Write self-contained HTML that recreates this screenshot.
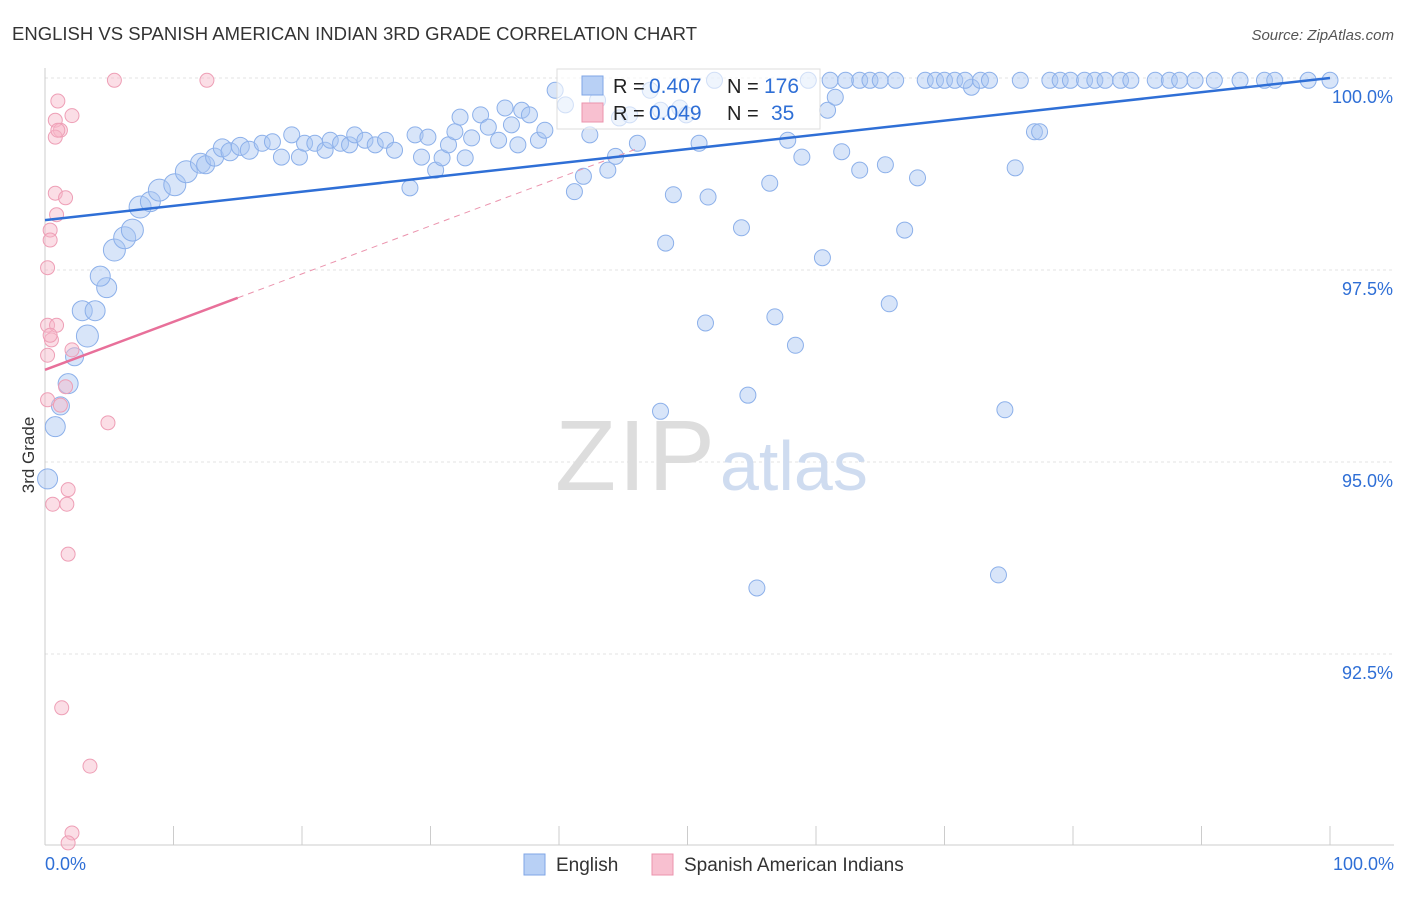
<!DOCTYPE html>
<html><head><meta charset="utf-8"><style>
body{margin:0;background:#fff;font-family:"Liberation Sans",sans-serif}
svg text{font-family:"Liberation Sans",sans-serif}
</style></head><body>
<svg id="chart" width="1406" height="892" xmlns="http://www.w3.org/2000/svg">
<text x="12" y="40" font-size="18.5" fill="#333" textLength="685">ENGLISH VS SPANISH AMERICAN INDIAN 3RD GRADE CORRELATION CHART</text>
<text x="1394" y="40" font-size="15" fill="#555" text-anchor="end" font-style="italic">Source: ZipAtlas.com</text>
<text x="34" y="455" font-size="17" fill="#333" transform="rotate(-90 34 455)" text-anchor="middle">3rd Grade</text>
<g id="grid"></g>
<g id="axes"></g>
<text x="555" y="490" font-size="100" fill="#ddd" textLength="160" font-family="Liberation Serif">ZIP</text>
<text x="720" y="490" font-size="70" fill="#cfdcf0">atlas</text>
<g id="marks"></g>
<g>
<rect x="557" y="69" width="263" height="60" fill="#fff" fill-opacity="0.6" stroke="#ddd"/>
<rect x="582" y="76" width="21" height="19" fill="#b8d0f5" stroke="#7fa6e6"/>
<rect x="582" y="103" width="21" height="19" fill="#f8c0d0" stroke="#eb93ad"/>
<text x="613" y="93" font-size="20" fill="#222">R =</text>
<text x="649" y="93" font-size="21" fill="#2f6fd6">0.407</text>
<text x="727" y="93" font-size="20" fill="#222">N =</text>
<text x="764" y="93" font-size="21" fill="#2f6fd6">176</text>
<text x="613" y="120" font-size="20" fill="#222">R =</text>
<text x="649" y="120" font-size="21" fill="#2f6fd6">0.049</text>
<text x="727" y="120" font-size="20" fill="#222">N =</text>
<text x="771" y="120" font-size="21" fill="#2f6fd6">35</text>
</g>
<g>
<rect x="524" y="854" width="21" height="21" fill="#b8d0f5" stroke="#7fa6e6"/>
<text x="556" y="871" font-size="19" fill="#333">English</text>
<rect x="652" y="854" width="21" height="21" fill="#f8c0d0" stroke="#eb93ad"/>
<text x="684" y="871" font-size="19" fill="#333">Spanish American Indians</text>
</g>
</svg>
<script>
const yTicks=[92.5,95,97.5,100];
const yTickLabels=["92.5%","95.0%","97.5%","100.0%"];
const xTicks=[0,10,20,30,40,50,60,70,80,90,100];
const englishX=[0.2,0.8,1.2,1.8,2.3,3.3,2.9,3.9,4.8,4.3,5.4,6.2,6.8,7.4,8.2,8.9,10.1,11.0,12.1,12.5,13.2,13.8,14.4,15.2,15.9,16.9,17.7,18.4,19.2,19.8,20.2,21.0,21.8,22.2,23.0,23.7,24.1,24.9,25.7,26.5,27.2,28.4,28.8,29.3,29.8,30.4,30.9,31.4,31.9,32.3,32.7,33.2,33.9,34.5,35.3,35.8,36.3,36.8,37.1,37.7,38.4,38.9,39.7,40.5,41.2,41.9,42.4,43.0,43.8,44.4,44.7,45.5,46.1,47.1,47.9,48.3,48.9,49.4,49.9,50.9,51.4,51.6,52.1,54.2,54.7,55.4,56.4,56.8,57.8,58.4,58.9,59.4,60.5,60.9,61.5,62.0,63.4,65.4,65.7,66.9,67.9,72.1,74.2,74.7,75.5,77.0,77.4,47.9,61.1,62.3,63.4,64.2,65.0,66.2,68.5,69.3,70.0,70.8,71.6,72.8,73.5,75.9,78.2,79.0,79.8,80.9,81.7,82.5,83.7,84.5,86.4,87.5,88.3,89.5,91.0,93.0,94.9,95.7,98.3,100];
const englishY=[94.78,95.46,95.73,96.02,96.37,96.64,96.97,96.97,97.27,97.42,97.76,97.92,98.02,98.32,98.39,98.54,98.61,98.78,98.89,98.87,98.97,99.09,99.04,99.11,99.06,99.15,99.17,98.97,99.26,98.97,99.15,99.15,99.06,99.19,99.15,99.13,99.26,99.19,99.13,99.19,99.06,98.57,99.26,98.97,99.23,98.80,98.96,99.13,99.30,99.49,98.96,99.22,99.52,99.36,99.19,99.61,99.39,99.13,99.58,99.52,99.19,99.32,99.84,99.65,98.52,98.72,99.26,99.71,98.80,98.98,99.48,99.52,99.15,99.84,99.58,97.85,98.48,99.61,99.52,99.15,96.81,98.45,99.97,98.05,95.87,93.36,98.63,96.89,99.19,96.52,98.97,99.97,97.66,99.58,99.75,99.04,98.80,98.87,97.06,98.02,98.70,99.88,93.53,95.68,98.83,99.30,99.30,95.66,99.97,99.97,99.97,99.97,99.97,99.97,99.97,99.97,99.97,99.97,99.97,99.97,99.97,99.97,99.97,99.97,99.97,99.97,99.97,99.97,99.97,99.97,99.97,99.97,99.97,99.97,99.97,99.97,99.97,99.97,99.97,99.97];
const englishSize=[10,10,9,10,9,11,10,10,10,10,11,11,11,11,10,11,11,11,10,9,9,9,9,9,9,8,8,8,8,8,8,8,8,8,8,8,8,8,8,8,8,8,8,8,8,8,8,8,8,8,8,8,8,8,8,8,8,8,8,8,8,8,8,8,8,8,8,8,8,8,8,8,8,8,8,8,8,8,8,8,8,8,8,8,8,8,8,8,8,8,8,8,8,8,8,8,8,8,8,8,8,8,8,8,8,8,8,8,8,8,8,8,8,8,8,8,8,8,8,8,8,8,8,8,8,8,8,8,8,8,8,8,8,8,8,8,8,8,8,8,8];
const spanishX=[5.4,12.6,1.0,2.1,0.8,1.2,0.8,0.8,1.6,0.9,0.4,0.4,0.2,0.2,0.9,0.5,0.2,2.1,1.6,1.2,0.2,4.9,1.8,0.6,1.7,1.8,1.3,3.5,2.1,1.8,0.4,1.0];
const spanishY=[99.97,99.97,99.70,99.51,99.45,99.32,99.23,98.50,98.44,98.22,98.02,97.89,97.53,96.78,96.78,96.59,96.39,96.46,95.98,95.74,95.81,95.51,94.64,94.45,94.45,93.80,91.80,91.04,90.17,90.04,96.65,99.32];
const englishTrend=[98.15,100];
const spanishTrend=[96.2,102.45];
const NS="http://www.w3.org/2000/svg";
const X=v=>45+v*12.85, Y=v=>78+(100-v)*76.8;
function mk(tag,attrs,parent){const e=document.createElementNS(NS,tag);for(const k in attrs)e.setAttribute(k,attrs[k]);document.getElementById(parent).appendChild(e);return e;}
yTicks.forEach((t,i)=>{
 const l=mk('line',{x1:45,x2:1394,y1:Y(t),y2:Y(t),stroke:'#e3e3e3','stroke-dasharray':'3,3'},'grid');
 
 
 const tx=mk('text',{x:1393,y:Y(t)+25,'font-size':18,fill:'#2f6fd6','text-anchor':'end'},'axes');
 tx.textContent=yTickLabels[i];
 
 
});
const ax=mk('line',{x1:45,x2:45,y1:68,y2:845,stroke:'#ccc'},'axes');


const bx=mk('line',{x1:45,x2:1394,y1:845,y2:845,stroke:'#ccc'},'axes');


xTicks.forEach(t=>{const l=mk('line',{x1:X(t),x2:X(t),y1:826,y2:845,stroke:'#ccc'},'axes');
 
 });
[[0,'0.0%','start',45],[100,'100.0%','end',1394]].forEach(a=>{const t=mk('text',{x:a[3],y:870,'font-size':18,fill:'#2f6fd6','text-anchor':a[2]},'axes');t.textContent=a[1];
 
 });
englishX.forEach((x,i)=>{const c=mk('circle',{cx:X(x),cy:Y(englishY[i]),r:englishSize[i],fill:'#a9c6f2','fill-opacity':0.45,stroke:'#8cb0ea','stroke-width':1},'marks');
 
 });
spanishX.forEach((x,i)=>{const c=mk('circle',{cx:X(x),cy:Y(spanishY[i]),r:7,fill:'#f6b5c8','fill-opacity':0.45,stroke:'#ee9fb6','stroke-width':1},'marks');
 
 });
const sAt=x=>spanishTrend[0]+(spanishTrend[1]-spanishTrend[0])*x/100;
const d1=mk('line',{x1:X(15),y1:Y(sAt(15)),x2:X(46),y2:Y(sAt(46)),stroke:'#eb93ad','stroke-width':1,'stroke-dasharray':'6,5'},'marks');


const s1=mk('line',{x1:X(0),y1:Y(sAt(0)),x2:X(15),y2:Y(sAt(15)),stroke:'#e8709a','stroke-width':2.5},'marks');


const b1=mk('line',{x1:X(0),y1:Y(englishTrend[0]),x2:X(100),y2:Y(englishTrend[1]),stroke:'#2f6fd6','stroke-width':2.5},'marks');


</script>
</body></html>
